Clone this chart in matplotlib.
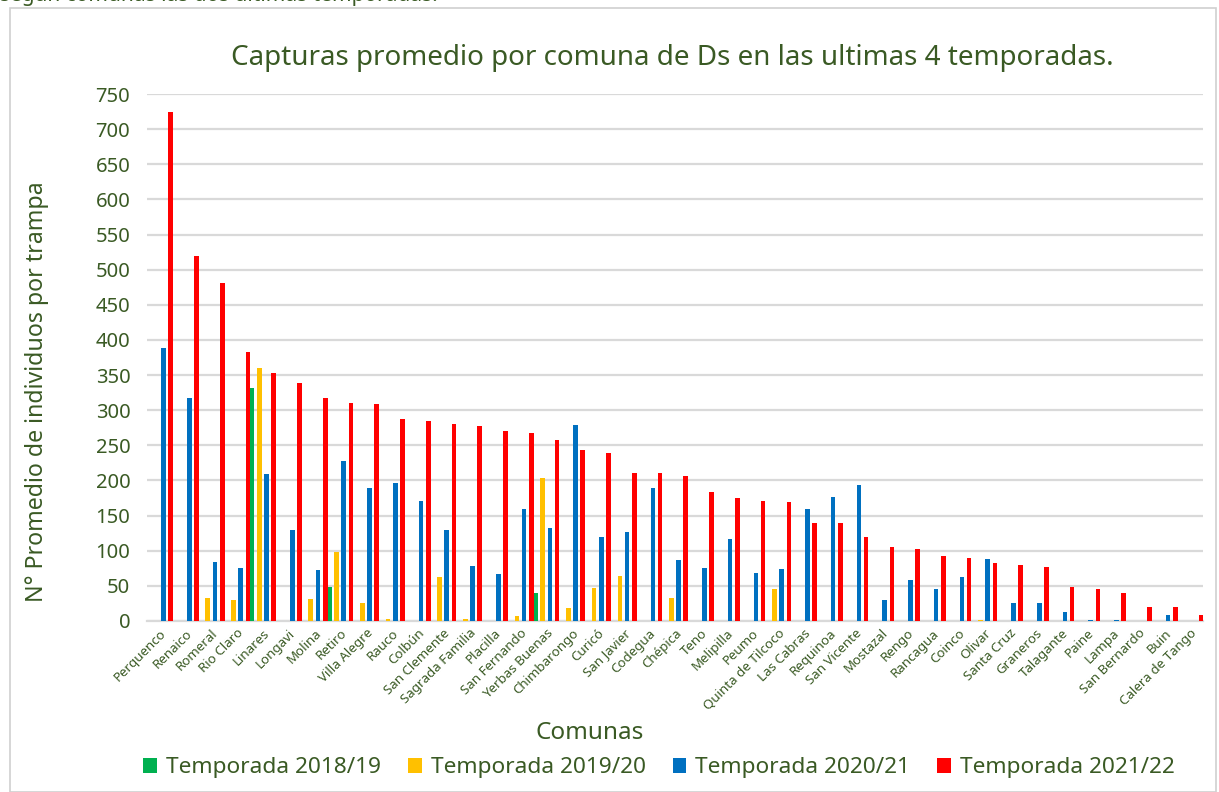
import matplotlib.pyplot as plt
import numpy as np
from matplotlib.patches import Rectangle

comunas = ['Perquenco', 'Renaico', 'Romeral', 'Rio Claro', 'Linares', 'Longavi', 'Molina',
           'Retiro', 'Villa Alegre', 'Rauco', 'Colbún', 'San Clemente', 'Sagrada Familia',
           'Placilla', 'San Fernando', 'Yerbas Buenas', 'Chimbarongo', 'Curicó', 'San Javier',
           'Codegua', 'Chépica', 'Teno', 'Melipilla', 'Peumo', 'Quinta de Tilcoco',
           'Las Cabras', 'Requinoa', 'San Vicente', 'Mostazal', 'Rengo', 'Rancagua', 'Coinco',
           'Olivar', 'Santa Cruz', 'Graneros', 'Talagante', 'Paine', 'Lampa', 'San Bernardo',
           'Buin', 'Calera de Tango']

t1819 = [0, 0, 0, 0, 331, 0, 0, 49, 0, 0, 0, 0, 0, 0, 0, 40, 0, 0, 0, 0, 0,
         0, 0, 0, 0, 0, 0, 0, 0, 0, 0, 0, 0, 0, 0, 0, 0, 0, 0, 0, 0]
t1920 = [0, 0, 33, 30, 360, 0, 32, 98, 25, 2.5, 0, 62, 2.5, 0, 7.6, 204, 18, 47, 64, 0, 33,
         0.5, 0, 0, 45, 0, 0, 0, 0, 0, 0, 0.5, 2, 0, 0, 0, 0, 0, 0, 0, 0]
t2021 = [388, 317, 84, 76, 209, 130, 72, 228, 189, 196, 171, 129, 78, 67, 160, 133, 279, 119,
         126, 189, 87, 76, 117, 69, 74, 160, 176, 193, 30, 59, 46, 63, 88, 26, 26, 13, 1, 1,
         0.5, 9, 0.5]
t2122 = [724, 520, 481, 383, 353, 339, 317, 310, 309, 288, 285, 281, 277, 270, 268, 258, 244,
         239, 211, 210, 207, 184, 175, 171, 170, 139, 139, 120, 106, 102, 93, 89, 83, 80, 77,
         49, 46, 40, 20, 20, 9]

series = [('Temporada 2018/19', t1819, '#00B050'),
          ('Temporada 2019/20', t1920, '#FFC000'),
          ('Temporada 2020/21', t2021, '#0070C0'),
          ('Temporada 2021/22', t2122, '#FF0000')]

txt = '#3A5A24'
plt.rcParams['font.family'] = ['Noto Sans', 'DejaVu Sans']

fig = plt.figure(figsize=(12.19, 7.92), dpi=100)
fig.patches.append(Rectangle((10 / 1219, 0), 1206 / 1219, 1 - 8 / 792, transform=fig.transFigure,
                             fill=False, edgecolor='#D0D0D0', linewidth=1.2))
fig.text(0.0, 1 - 1 / 792, 'según comunas las dos ultimas temporadas.', fontsize=15,
         color=txt, va='baseline', ha='left')

ax = fig.add_axes([147 / 1219, 1 - 621 / 792, 1056 / 1219, 527 / 792])
x = np.arange(len(comunas))
offsets = [-0.42, -0.14, 0.14, 0.42]
for (name, vals, col), off in zip(series, offsets):
    ax.bar(x + off, vals, width=0.18, color=col, label=name, linewidth=0, zorder=3)

ax.set_xlim(-0.5, len(comunas) - 0.5)
ax.set_ylim(0, 750)
ax.set_yticks(np.arange(0, 751, 50))
ax.yaxis.grid(True, color='#D9D9D9', linewidth=1.6, zorder=0)
ax.set_axisbelow(True)
for s in ['top', 'right', 'left']:
    ax.spines[s].set_visible(False)
ax.spines['bottom'].set_color('#D9D9D9')
ax.spines['bottom'].set_linewidth(1.6)
ax.tick_params(axis='both', length=0, colors=txt)
ax.tick_params(axis='y', labelsize=14.5, pad=12)
ax.set_xticks(x)
ax.set_xticklabels(comunas, rotation=45, ha='right', rotation_mode='anchor', fontsize=9.6,
                   color=txt)
ax.tick_params(axis='x', pad=4)

# y label sits a bit lower than the axes centre in the original
fig.text(37 / 1219, 1 - 392 / 792, 'N° Promedio de individuos por trampa', fontsize=16.7,
         color=txt, rotation=90, ha='center', va='center')
fig.text(590 / 1219, 1 - 733 / 792, 'Comunas', fontsize=17.5, color=txt, ha='center', va='center')
fig.text(672 / 1219, 1 - 58 / 792, 'Capturas promedio por comuna de Ds en las ultimas 4 temporadas.',
         fontsize=20, color=txt, ha='center', va='center')

leg = fig.legend(loc='center', bbox_to_anchor=(659 / 1219, 1 - 768 / 792), ncol=4, frameon=False,
                 fontsize=16.3, handlelength=0.6, handleheight=0.6, handletextpad=0.4,
                 columnspacing=1.2, labelcolor=txt)

fig.savefig('out.png', dpi=100)
